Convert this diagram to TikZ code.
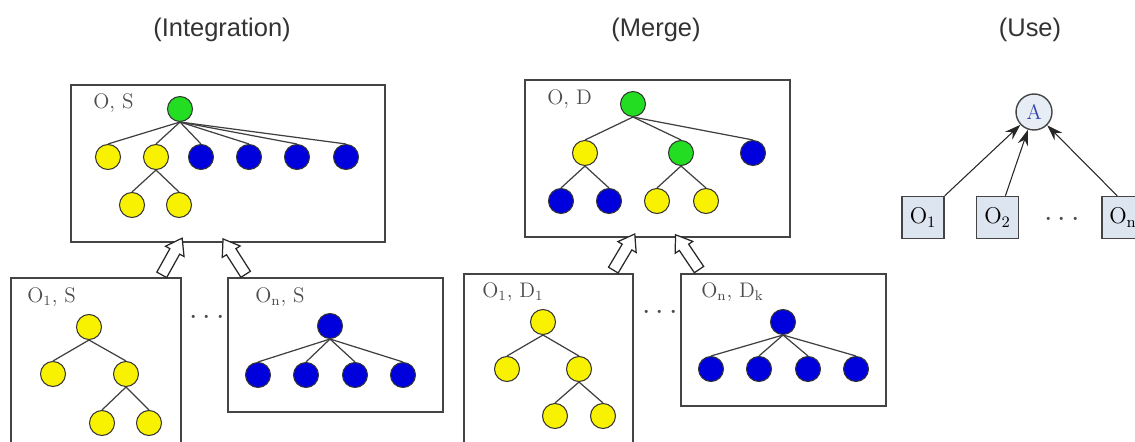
\documentclass[tikz,border=0pt]{standalone}
\usepackage{fontspec}
\usetikzlibrary{arrows.meta,shapes.arrows}
\newfontfamily\titlefont{Liberation Sans}
\definecolor{NdGreen}{HTML}{22DD22}
\definecolor{NdYellow}{HTML}{F8F200}
\definecolor{NdBlue}{HTML}{0000DD}
\definecolor{NdGray}{HTML}{444444}
\definecolor{UseFill}{HTML}{DDE5F0}
\definecolor{UseInk}{HTML}{3344AA}

\begin{document}
\begin{tikzpicture}[
    x=0.02cm, y=-0.02cm,
    % 默认箭头
    >={Stealth[length=9pt,width=6pt]},
    frame/.style={draw=NdGray, line width=0.9pt},
    knot/.style={circle, draw=black!80, line width=0.6pt, minimum size=0.5cm, inner sep=0pt},
    grn/.style={knot, fill=NdGreen},
    ylw/.style={knot, fill=NdYellow},
    blu/.style={knot, fill=NdBlue},
    edge/.style={draw=black!75, line width=0.7pt},
    boxlabel/.style={anchor=west, inner sep=0pt, text=black!70, font=\fontsize{12}{14}\selectfont},
    paneltitle/.style={font=\titlefont\fontsize{14.5}{16}\selectfont, text=black!80},
    dotsnode/.style={inner sep=0pt, text=black!70, font=\fontsize{18}{18}\selectfont},
    blockarr/.style={single arrow, draw=black!85, fill=white, line width=0.7pt,
        minimum height=0.84cm, minimum width=0.4cm, inner sep=0.1cm,
        single arrow head extend=0.1cm, single arrow tip angle=70,
        sloped, allow upside down},
    usebox/.style={draw=NdGray, fill=UseFill, line width=0.8pt, minimum size=0.84cm, inner sep=0pt,
        font=\fontsize{13}{14}\selectfont},
    usecirc/.style={circle, draw=NdGray, fill=UseFill!70!white, line width=0.8pt,
        minimum size=0.72cm, inner sep=0pt, text=UseInk, font=\fontsize{12}{14}\selectfont}
]

    \clip (0,0) rectangle (1135,442);

    % --- 1. 标题 ---
    \node[paneltitle] (t1) at (222,30) {(Integration)};
    \node[paneltitle] (t2) at (656,30) {(Merge)};
    \node[paneltitle] (t3) at (1030,30) {(Use)};

    % --- 2. Integration 面板 ---
    \draw[frame] (71,85) rectangle (385,242);
    \draw[frame] (11,278) rectangle (181,470);
    \draw[frame] (228,278) rectangle (443,412);
    \node[boxlabel] (l1) at (93,103) {O, S};
    \node[boxlabel] (l2) at (27,297) {O\textsubscript{1}, S};
    \node[boxlabel] (l3) at (255,297) {O\textsubscript{n}, S};

    \node[grn] (r1) at (180,109) {};
    \foreach \n/\x/\st in {a1/108/ylw, a2/156/ylw, a3/201/blu, a4/249/blu, a5/297/blu, a6/346/blu}
        \node[\st] (\n) at (\x,157) {};
    \node[ylw] (a7) at (132,205) {};
    \node[ylw] (a8) at (179,205) {};
    \foreach \c in {a1,a2,a3,a4,a5,a6}
        \draw[edge] (r1.south) -- (\c.north);
    \foreach \c in {a7,a8}
        \draw[edge] (a2.south) -- (\c.north);

    \node[ylw] (b0) at (89,327) {};
    \node[ylw] (b1) at (53,374) {};
    \node[ylw] (b2) at (126,374) {};
    \node[ylw] (b3) at (102,423) {};
    \node[ylw] (b4) at (149,423) {};
    \foreach \p/\c in {b0/b1, b0/b2, b2/b3, b2/b4}
        \draw[edge] (\p.south) -- (\c.north);

    \node[blu] (c0) at (330,326) {};
    \foreach \n/\x in {c1/258, c2/306, c3/355, c4/403}
    {
        \node[blu] (\n) at (\x,375) {};
        \draw[edge] (c0.south) -- (\n.north);
    }
    \node[dotsnode] (d1) at (207,318) {$\cdots$};

    \coordinate (p1) at (160,278);
    \coordinate (q1) at (180,242);
    \coordinate (p2) at (248,278);
    \coordinate (q2) at (225,242);
    \path (p1) -- (q1) node[blockarr, midway] (k1) {};
    \path (p2) -- (q2) node[blockarr, midway] (k2) {};

    % --- 3. Merge 面板 ---
    \draw[frame] (525,80) rectangle (790,237);
    \draw[frame] (464,274) rectangle (633,470);
    \draw[frame] (681,274) rectangle (886,406);
    \node[boxlabel] (l4) at (547,99) {O, D};
    \node[boxlabel] (l5) at (482,292) {O\textsubscript{1}, D\textsubscript{1}};
    \node[boxlabel] (l6) at (701,292) {O\textsubscript{n}, D\textsubscript{k}};

    \node[grn] (m0) at (633,104) {};
    \node[ylw] (m1) at (585,153) {};
    \node[grn] (m2) at (681,153) {};
    \node[blu] (m3) at (753,153) {};
    \node[blu] (m4) at (561,201) {};
    \node[blu] (m5) at (609,201) {};
    \node[ylw] (m6) at (657,201) {};
    \node[ylw] (m7) at (706,201) {};
    \foreach \p/\c in {m0/m1, m0/m2, m0/m3, m1/m4, m1/m5, m2/m6, m2/m7}
        \draw[edge] (\p.south) -- (\c.north);

    \node[ylw] (e0) at (543,322) {};
    \node[ylw] (e1) at (507,369) {};
    \node[ylw] (e2) at (579,369) {};
    \node[ylw] (e3) at (555,416) {};
    \node[ylw] (e4) at (603,416) {};
    \foreach \p/\c in {e0/e1, e0/e2, e2/e3, e2/e4}
        \draw[edge] (\p.south) -- (\c.north);

    \node[blu] (f0) at (783,322) {};
    \foreach \n/\x in {f1/711, f2/759, f3/808, f4/856}
    {
        \node[blu] (\n) at (\x,369) {};
        \draw[edge] (f0.south) -- (\n.north);
    }
    \node[dotsnode] (d2) at (660,313) {$\cdots$};

    \coordinate (p3) at (611,274);
    \coordinate (q3) at (633,237);
    \coordinate (p4) at (702,274);
    \coordinate (q4) at (677,237);
    \path (p3) -- (q3) node[blockarr, midway] (k3) {};
    \path (p4) -- (q4) node[blockarr, midway] (k4) {};

    % --- 4. Use 面板 ---
    \node[usecirc] (A) at (1034,112) {A};
    \node[usebox] (o1) at (923,217.5) {O\textsubscript{1}};
    \node[usebox] (o2) at (997.5,217.5) {O\textsubscript{2}};
    \node[usebox] (on) at (1123,217.5) {O\textsubscript{n}};
    \node[dotsnode] (d3) at (1062,220) {$\cdots$};

    \draw[->, line width=0.6pt, black!85] (o1.north east) -- (A);
    \draw[->, line width=0.6pt, black!85] (o2.70) -- (A);
    \draw[->, line width=0.6pt, black!85] (on.105) -- (A);

\end{tikzpicture}
\end{document}
